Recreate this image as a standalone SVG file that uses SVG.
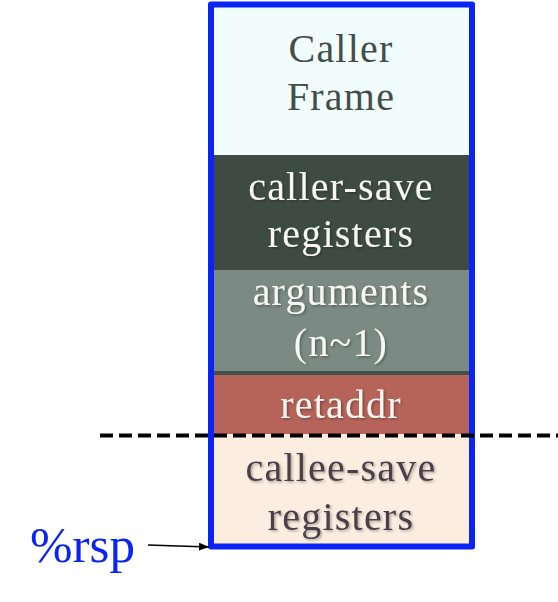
<svg xmlns="http://www.w3.org/2000/svg" width="558" height="602" viewBox="0 0 558 602">
<defs>
<style>
.t{font-family:"Liberation Serif","DejaVu Serif",serif;font-size:40px;text-anchor:middle;letter-spacing:1.2px}
.dk{fill:#434d4a}
.lt{fill:#f7f7f2}
.cl{fill:#4a4148}
</style>
<filter id="sh" x="-10%" y="-10%" width="130%" height="130%">
<feDropShadow dx="1.5" dy="1.5" stdDeviation="1" flood-color="#000" flood-opacity="0.3"/>
</filter>
<marker id="ah" markerWidth="10" markerHeight="8" refX="10" refY="4" orient="auto" markerUnits="userSpaceOnUse">
<path d="M0,0 L10,4 L0,8 z" fill="#000"/>
</marker>
</defs>
<rect width="558" height="602" fill="#fff"/>
<g id="caller-frame">
<rect x="211" y="4" width="261" height="151" fill="#f1fdfc"/>
<text class="t dk" x="341" y="62">Caller</text>
<text class="t dk" x="341" y="110">Frame</text>
</g>
<g id="caller-save">
<rect x="211" y="155" width="261" height="115" fill="#3e4b45"/>
<text class="t lt" x="341" y="200" filter="url(#sh)">caller-save</text>
<text class="t lt" x="341" y="247" filter="url(#sh)">registers</text>
</g>
<g id="arguments">
<rect x="211" y="270" width="261" height="102" fill="#7b8a84"/>
<rect x="211" y="371" width="261" height="4" fill="#44514b"/>
<text class="t lt" x="341" y="305" filter="url(#sh)">arguments</text>
<text class="t lt" x="341" y="356" filter="url(#sh)">(n~1)</text>
</g>
<g id="retaddr">
<rect x="211" y="375" width="261" height="59" fill="#b6645a"/>
<text class="t lt" x="341" y="418" filter="url(#sh)">retaddr</text>
</g>
<g id="callee-save">
<rect x="211" y="434" width="261" height="112" fill="#fbeee0"/>
<text class="t cl" x="341" y="481" filter="url(#sh)">callee-save</text>
<text class="t cl" x="341" y="530" filter="url(#sh)">registers</text>
</g>
<g id="frame-border">
<rect x="211" y="4.5" width="261" height="542" fill="none" stroke="#0a24f5" stroke-width="6" stroke-linejoin="round"/>
</g>
<g id="connectors">
<line x1="100" y1="435.5" x2="558" y2="435.5" stroke="#000" stroke-width="4" stroke-dasharray="13,6"/>
<line x1="148" y1="545" x2="209" y2="547" stroke="#000" stroke-width="1.5" marker-end="url(#ah)"/>
</g>
<g id="rsp-label">
<text x="30" y="562" font-family="Liberation Serif, DejaVu Serif, serif" font-size="50" fill="#0a24f5" textLength="105" lengthAdjust="spacingAndGlyphs">%rsp</text>
</g>
</svg>
